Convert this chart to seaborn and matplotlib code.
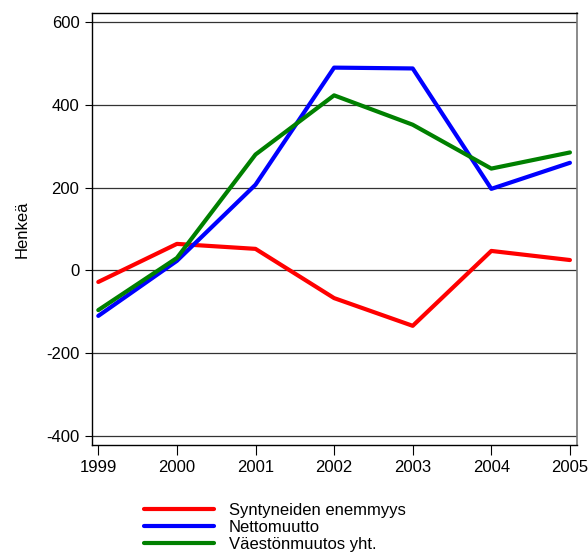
import matplotlib
matplotlib.use('Agg')

import numpy as np
import pandas as pd
import seaborn as sns
import matplotlib.pyplot as plt

years = [1999, 2000, 2001, 2002, 2003, 2004, 2005]
syntyneet = [-28, 64, 52, -67, -134, 47, 25]
nettomuutto = [-110, 23, 207, 490, 488, 197, 260]
vaestonmuutos = [-96, 30, 280, 423, 352, 246, 285]
series_names = ['Syntyneiden enemmyys', 'Nettomuutto', 'Väestönmuutos yht.']
colors = ['#ff0000', '#0000ff', '#008000']

df = pd.DataFrame({
    'vuosi': years * 3,
    'henkea': syntyneet + nettomuutto + vaestonmuutos,
    'sarja': [series_names[0]] * 7 + [series_names[1]] * 7 + [series_names[2]] * 7,
})

sns.set_style('white')
plt.rcParams['font.family'] = ['Liberation Sans', 'DejaVu Sans']
plt.rcParams['font.size'] = 12
plt.rcParams['axes.unicode_minus'] = False
plt.rcParams['text.color'] = 'black'
plt.rcParams['axes.labelcolor'] = 'black'
plt.rcParams['xtick.color'] = 'black'
plt.rcParams['ytick.color'] = 'black'

fig = plt.figure(figsize=(5.88, 5.54), dpi=100)
ax = fig.add_axes([92 / 588, 1 - 445 / 554, 485 / 588, 432 / 554])

sns.lineplot(data=df, x='vuosi', y='henkea', hue='sarja', palette=colors,
             linewidth=3, ax=ax, legend=False, sort=False)

ax.set_xlim(1998.92, 2005.09)
ax.set_ylim(-422, 622)
ax.set_xticks(years)
ax.set_yticks([-400, -200, 0, 200, 400, 600])
ax.set_xlabel('')
ax.set_ylabel('Henkeä', fontsize=12, labelpad=12)

for y in [-400, -200, 0, 200, 400, 600]:
    ax.axhline(y, color='#333333', linewidth=0.9, zorder=0)

for side in ['top', 'left', 'bottom']:
    ax.spines[side].set_color('black')
    ax.spines[side].set_linewidth(1)
ax.spines['right'].set_color('#777777')
ax.spines['right'].set_linewidth(1.2)

ax.tick_params(axis='y', direction='out', length=5, width=0.8, left=True, pad=4, labelsize=12)
ax.tick_params(axis='x', direction='out', length=7, width=0.8, bottom=True, pad=4, labelsize=12)

handles = [plt.Line2D([], [], color=c, linewidth=3) for c in colors]
fig.legend(handles, series_names, loc='upper left',
           bbox_to_anchor=(137 / 588, 1 - 496 / 554), frameon=False,
           handlelength=4.2, handletextpad=0.9, labelspacing=0.12,
           fontsize=12, borderaxespad=0)

fig.savefig('out.png', dpi=100)
